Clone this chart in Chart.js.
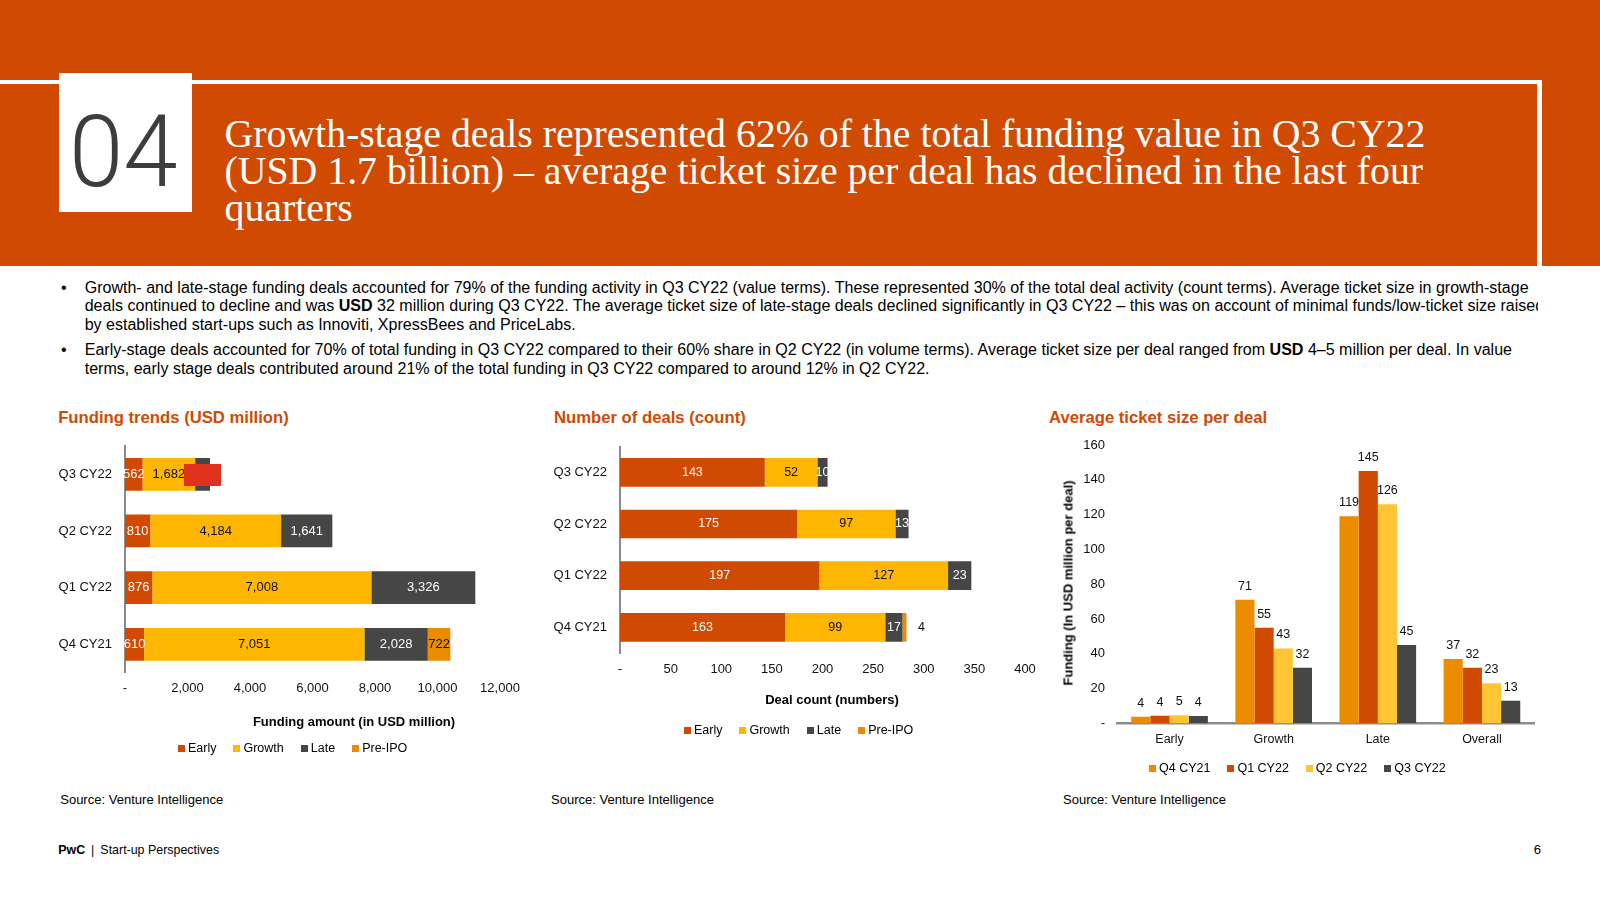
<!DOCTYPE html>
<html><head><meta charset="utf-8">
<script src="https://cdn.jsdelivr.net/npm/chart.js@4.4.1/dist/chart.umd.min.js"></script>
<style>
html,body{margin:0;padding:0;width:1600px;height:900px;overflow:hidden;background:#fff;font-family:"Liberation Sans",Arial,sans-serif;color:#000}
.abs{position:absolute}
.t{position:absolute;white-space:nowrap;line-height:1;left:0;top:0}
.serif{font-family:"Liberation Serif","Times New Roman",serif;color:#fff}
.ct{font-weight:bold;color:#D04A02;font-size:16px}
.src{font-size:12px;color:#000}
.axt{position:absolute;white-space:nowrap;font-weight:bold;font-size:13px;line-height:1;transform:translate(-50%,-50%)}
.legend{position:absolute;display:flex;gap:17px;font-size:12.5px;line-height:14px;transform:translateY(-50%);white-space:nowrap}
.lg{display:flex;align-items:center}
.lg i{display:inline-block;width:7px;height:7px;margin-right:3px}
canvas{position:absolute}
</style></head><body>
<!-- header -->
<div class="abs" style="left:0;top:0;width:1600px;height:266px;background:#D04A02"></div>
<div class="abs" style="left:0;top:80px;width:1542px;height:4px;background:#fff"></div>
<div class="abs" style="left:1537px;top:80px;width:5px;height:186px;background:#fff"></div>
<div class="abs" style="left:59px;top:73px;width:133px;height:139px;background:#fff"></div>
<div class="t" id="num" style="font-family:Roboto,'Liberation Sans',sans-serif;font-weight:300;font-size:101px;color:#3d3d3d;transform-origin:0 0;transform:scaleX(0.97)">04</div>
<div class="t serif" id="tl1">Growth-stage deals represented 62% of the total funding value in Q3 CY22</div>
<div class="t serif" id="tl2">(USD 1.7 billion) – average ticket size per deal has declined in the last four</div>
<div class="t serif" id="tl3">quarters</div>

<!-- bullets -->
<div class="t" id="d1">•</div>
<div class="t" id="d2">•</div>
<div style="position:absolute;left:0;top:0;width:1538px;height:400px;overflow:hidden">
<div class="t bl" id="b1">Growth- and late-stage funding deals accounted for 79% of the funding activity in Q3 CY22 (value terms). These represented 30% of the total deal activity (count terms). Average ticket size in growth-stage</div>
<div class="t bl" id="b2">deals continued to decline and was <b>USD</b> 32 million during Q3 CY22. The average ticket size of late-stage deals declined significantly in Q3 CY22 – this was on account of minimal funds/low-ticket size raised</div>
<div class="t bl" id="b3">by established start-ups such as Innoviti, XpressBees and PriceLabs.</div>
<div class="t bl" id="b4">Early-stage deals accounted for 70% of total funding in Q3 CY22 compared to their 60% share in Q2 CY22 (in volume terms). Average ticket size per deal ranged from <b>USD</b> 4–5 million per deal. In value</div>
<div class="t bl" id="b5">terms, early stage deals contributed around 21% of the total funding in Q3 CY22 compared to around 12% in Q2 CY22.</div>
</div>

<!-- chart titles -->
<div class="t ct" id="c1t">Funding trends (USD million)</div>
<div class="t ct" id="c2t">Number of deals (count)</div>
<div class="t ct" id="c3t">Average ticket size per deal</div>

<canvas id="c1" width="490" height="300" style="left:40px;top:430px"></canvas>
<canvas id="c2" width="510" height="300" style="left:535px;top:430px"></canvas>
<canvas id="c3" width="540" height="330" style="left:1040px;top:430px"></canvas>

<div class="abs" style="left:184px;top:464px;width:37px;height:22px;background:#E0301E"></div>

<div class="axt" style="left:354px;top:721px">Funding amount (in USD million)</div>
<div class="axt" style="left:832px;top:699px">Deal count (numbers)</div>
<div class="axt" style="left:1067.5px;top:583px;transform:translate(-50%,-50%) rotate(-90deg)">Funding (In USD million per deal)</div>

<div class="t src" id="s1">Source: Venture Intelligence</div>
<div class="t src" id="s2">Source: Venture Intelligence</div>
<div class="t src" id="s3">Source: Venture Intelligence</div>
<div class="t src" id="ft"><b>PwC</b><span style="margin:0 6px 0 6px">|</span>Start-up Perspectives</div>
<div class="t src" id="pg">6</div>

<script>
// ---------------- DATA ----------------
const stageNames = ['Early', 'Growth', 'Late', 'Pre-IPO'];
const quarterCategories = ['Q3 CY22', 'Q2 CY22', 'Q1 CY22', 'Q4 CY21'];

const fundEarly  = [562, 810, 876, 610];
const fundGrowth = [1682, 4184, 7008, 7051];
const fundLate   = [475, 1641, 3326, 2028];
const fundPreIPO = [0, 0, 0, 722];
const fundTicks  = [0, 2000, 4000, 6000, 8000, 10000, 12000];

const dealEarly  = [143, 175, 197, 163];
const dealGrowth = [52, 97, 127, 99];
const dealLate   = [10, 13, 23, 17];
const dealPreIPO = [0, 0, 0, 4];
const dealTicks  = [0, 50, 100, 150, 200, 250, 300, 350, 400];

const ticketCategories = ['Early', 'Growth', 'Late', 'Overall'];
const ticketSeriesNames = ['Q4 CY21', 'Q1 CY22', 'Q2 CY22', 'Q3 CY22'];
const ticketQ4CY21 = [3.8, 71, 119, 37];
const ticketQ1CY22 = [4.4, 55, 145, 32];
const ticketQ2CY22 = [4.6, 43, 126, 23];
const ticketQ3CY22 = [4.2, 32, 45, 13];
const ticketTicks  = [0, 20, 40, 60, 80, 100, 120, 140, 160];

// ---------------- STYLE ----------------
const COL = {early:'#D04A02', growth:'#FFB600', late:'#464646', preipo:'#EB8C00', q2:'#FFC535'};
const stageColors = [COL.early, COL.growth, COL.late, COL.preipo];
const ticketColors = [COL.preipo, COL.early, COL.q2, COL.late];

// ---------------- TEXT PLACEMENT ----------------
function fit(el, w){
  for(let k=0;k<3;k++){
    const cw = el.getBoundingClientRect().width;
    const fs = parseFloat(getComputedStyle(el).fontSize);
    el.style.fontSize = (fs*w/cw)+'px';
  }
  return parseFloat(el.style.fontSize);
}
function place(id, x, base, align){
  const el = document.getElementById(id);
  const m = document.createElement('span');
  m.style.cssText = 'display:inline-block;width:0;height:0;vertical-align:baseline';
  el.appendChild(m);
  const b = m.offsetTop;
  el.removeChild(m);
  const w = el.getBoundingClientRect().width;
  let xx = x;
  if(align==='right') xx = x - w; else if(align==='center') xx = x - w/2;
  el.style.left = xx+'px';
  el.style.top = (base-b)+'px';
}
const $ = id => document.getElementById(id);

place('num', 69, 186);
const tfs = fit($('tl1'), 1201);
$('tl2').style.fontSize = tfs+'px'; $('tl3').style.fontSize = tfs+'px';
place('tl1', 224.5, 146.5); place('tl2', 224.5, 183.5); place('tl3', 224.5, 220.5);

const bfs = fit($('b1'), 1444);
['b2','b3','b4','b5','d1','d2'].forEach(i=>$(i).style.fontSize = bfs+'px');
place('b1', 84.7, 292.5); place('b2', 84.7, 311); place('b3', 84.7, 329.5);
place('b4', 84.7, 355); place('b5', 84.7, 373.5);
place('d1', 61, 292.5); place('d2', 61, 355);

const cfs = fit($('c1t'), 230.6);
$('c2t').style.fontSize = cfs+'px'; $('c3t').style.fontSize = cfs+'px';
place('c1t', 58.2, 422.5); place('c2t', 554, 422.5); place('c3t', 1049, 422.5);

const sfs = fit($('s1'), 163);
['s2','s3','pg'].forEach(i=>$(i).style.fontSize = sfs+'px');
fit($('ft'), 161);
place('s1', 60.2, 804); place('s2', 551, 804); place('s3', 1063, 804);
place('ft', 58.2, 854); place('pg', 1541, 854, 'right');

function legend(x, y, names, colors){
  const d = document.createElement('div');
  d.className = 'legend';
  d.style.left = x+'px'; d.style.top = y+'px';
  names.forEach((n,i)=>{
    const s = document.createElement('span'); s.className='lg';
    const b = document.createElement('i'); b.style.background = colors[i];
    s.appendChild(b); s.appendChild(document.createTextNode(n));
    d.appendChild(s);
  });
  document.body.appendChild(d);
}
legend(178, 748, stageNames, stageColors);
legend(684, 730, stageNames, stageColors);
legend(1149, 768, ticketSeriesNames, ticketColors);

// ---------------- CHARTS ----------------
Chart.defaults.font.family = '"Liberation Sans", Arial, sans-serif';
Chart.defaults.color = '#111';
Chart.defaults.animation = false;

const barLabels = {
  id:'barLabels',
  beforeDatasetsDraw(chart, args, o){ if(o.when==='before') drawLabels(chart, o); },
  afterDatasetsDraw(chart, args, o){ if(o.when!=='before') drawLabels(chart, o); }
};
function drawLabels(chart, o){
  const ctx = chart.ctx;
  ctx.save();
  ctx.font = o.size+'px "Liberation Sans", Arial, sans-serif';
  ctx.textAlign = 'center'; ctx.textBaseline = 'middle';
  chart.data.datasets.forEach((ds, di)=>{
    const meta = chart.getDatasetMeta(di);
    meta.data.forEach((el, i)=>{
      const v = ds.data[i];
      if(!v) return;
      const p = el.getProps(['x','y','base'], true);
      let tx, ty;
      if(ds.labelPos==='center'){ tx = (p.x+p.base)/2; ty = p.y; }
      else if(ds.labelPos==='outside'){ tx = p.x + 15; ty = p.y; }
      else { tx = p.x; ty = p.y - 13.5; }
      ctx.fillStyle = ds.labelColor;
      ctx.fillText(o.fmt(v), tx, ty);
    });
  });
  ctx.restore();
}
function fixAxis(dim, size){
  return s => { s[dim] = size; s.paddingLeft = 0; s.paddingRight = 0; s.paddingTop = 0; s.paddingBottom = 0; };
}
const dash0 = v => v === 0 ? '-' : v.toLocaleString('en-US');

function stackedDs(arrs, labelColors, lastOutside){
  return arrs.map((a,i)=>({
    label: stageNames[i], data: a, backgroundColor: stageColors[i],
    labelColor: labelColors[i], labelPos: (lastOutside && i===3) ? 'outside' : 'center'
  }));
}

function hBar(canvas, arrs, ticks, pad, xH, cat, labelColors, lastOutside, size, tpad){
  return new Chart(canvas, {
    type:'bar',
    data:{ labels: quarterCategories, datasets: stackedDs(arrs, labelColors, lastOutside) },
    options:{
      indexAxis:'y', responsive:false, animation:false,
      layout:{ padding: pad },
      datasets:{ bar:{ categoryPercentage: cat, barPercentage: 1 } },
      scales:{
        x:{ stacked:true, min: ticks[0], max: ticks[ticks.length-1],
            afterBuildTicks: s => { s.ticks = ticks.map(v=>({value:v})); },
            ticks:{ padding:tpad, font:{size:13}, color:'#111', callback: dash0, autoSkip:false, maxRotation:0 },
            grid:{ display:false, drawTicks:false }, border:{ display:false },
            afterFit: fixAxis('height', xH) },
        y:{ stacked:true,
            ticks:{ padding:13, font:{size:13}, color:'#111' },
            grid:{ display:false, drawTicks:false },
            border:{ display:true, color:'#8c8c8c', width:2 },
            afterFit: fixAxis('width', 85) }
      },
      plugins:{ legend:{display:false}, tooltip:{enabled:false},
        barLabels:{ when:'after', size: size, fmt: v => v.toLocaleString('en-US') } }
    },
    plugins:[barLabels]
  });
}

hBar($('c1'), [fundEarly, fundGrowth, fundLate, fundPreIPO], fundTicks,
     {left:0, top:16, right:30, bottom:0}, 57.4, 0.578, ['#fff','#111','#fff','#111'], false, 13, 8.3);
hBar($('c2'), [dealEarly, dealGrowth, dealLate, dealPreIPO], dealTicks,
     {left:0, top:16.5, right:20, bottom:0}, 76.8, 0.555, ['#fff','#111','#fff','#111'], true, 12.5, 8.3);

new Chart($('c3'), {
  type:'bar',
  data:{ labels: ticketCategories, datasets: [ticketQ4CY21, ticketQ1CY22, ticketQ2CY22, ticketQ3CY22].map((a,i)=>({
    label: ticketSeriesNames[i], data: a, backgroundColor: ticketColors[i], labelColor:'#111', labelPos:'top'
  }))},
  options:{
    responsive:false, animation:false,
    layout:{ padding:{left:0, top:15, right:46, bottom:0} },
    datasets:{ bar:{ categoryPercentage:0.736, barPercentage:1 } },
    scales:{
      x:{ ticks:{ padding:9, font:{size:12.5}, color:'#111' },
          grid:{ display:false, drawTicks:false },
          border:{ display:true, color:'#8c8c8c', width:2.5 },
          afterFit: fixAxis('height', 36.7) },
      y:{ min: ticketTicks[0], max: ticketTicks[ticketTicks.length-1],
          afterBuildTicks: s => { s.ticks = ticketTicks.map(v=>({value:v})); },
          ticks:{ padding:12.5, font:{size:13}, color:'#111', callback: dash0 },
          grid:{ display:false, drawTicks:false }, border:{ display:false },
          afterFit: fixAxis('width', 77.5) }
    },
    plugins:{ legend:{display:false}, tooltip:{enabled:false},
      barLabels:{ when:'before', size:12.5, fmt: v => String(Math.round(v)) } }
  },
  plugins:[barLabels]
});
</script>
</body></html>
